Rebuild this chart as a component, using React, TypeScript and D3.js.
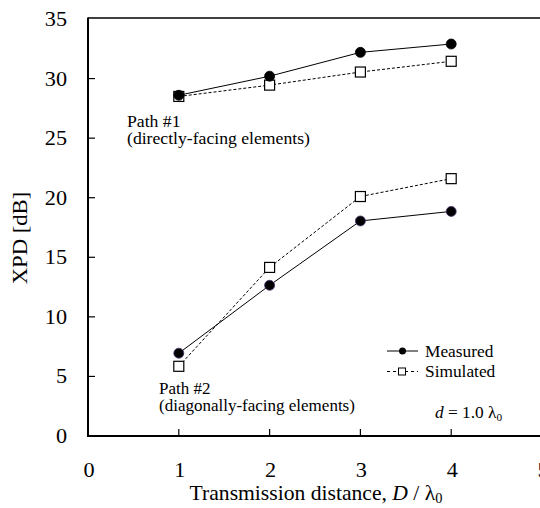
import * as React from "react";
import * as d3 from "d3";

const distances = [1, 2, 3, 4];
const path1Measured = [28.6, 30.2, 32.2, 32.9];
const path1Simulated = [28.5, 29.45, 30.55, 31.45];
const path2Measured = [6.95, 12.65, 18.05, 18.85];
const path2Simulated = [5.85, 14.15, 20.1, 21.6];
const xTicks = [0, 1, 2, 3, 4, 5];
const yTicks = [0, 5, 10, 15, 20, 25, 30, 35];

const W = 540;
const H = 508;
const margin = { left: 88, top: 19, right: -2, bottom: 72 };
const font = "Liberation Serif";

// text slightly stretched sideways, like the original figure
function T(props: { x: number, y: number, size: number, sx?: number, anchor?: string, rotate?: number, children?: any }) {
    const sx = props.sx ?? 1.06;
    const rot = props.rotate ? ` rotate(${props.rotate})` : "";
    return (
        <text transform={`translate(${props.x},${props.y})${rot} scale(${sx},1)`}
            fontSize={props.size} textAnchor={props.anchor || "start"}>
            {props.children}
        </text>
    );
}

export default function App() {
    const x = d3.scaleLinear().domain([0, 5]).range([margin.left, W - margin.right]);
    const y = d3.scaleLinear().domain([0, 35]).range([H - margin.bottom, margin.top]);
    const line = d3.line<number>()
        .x((_, i) => x(distances[i]))
        .y(d => y(d));

    const series = [
        { values: path1Simulated, kind: "sim" },
        { values: path2Simulated, kind: "sim" },
        { values: path1Measured, kind: "meas" },
        { values: path2Measured, kind: "meas" },
    ];

    const x0 = x(0), y0 = y(0), yTop = y(35);

    return (
        <svg width={W} height={H} style={{ position: "absolute", left: 0, top: 0, background: "#fff", fontFamily: font }}>
            {/* frame */}
            <line x1={x0} x2={W} y1={yTop - 1} y2={yTop - 1} stroke="#000" strokeWidth={1.5} />
            <line x1={x0} x2={x0} y1={yTop - 1.5} y2={y0} stroke="#000" strokeWidth={2} />
            <line x1={x0 - 1} x2={W} y1={y0} y2={y0} stroke="#000" strokeWidth={2} />

            {yTicks.map(t => (
                <g key={"y" + t}>
                    {t > 0 && t < 35 && <line x1={x0} x2={x0 + 7} y1={y(t)} y2={y(t)} stroke="#000" strokeWidth={1.2} />}
                    <T x={67} y={y(t) + 7} size={21} anchor="end">{t}</T>
                </g>
            ))}
            {xTicks.map(t => (
                <g key={"x" + t}>
                    {t > 0 && <line x1={x(t)} x2={x(t)} y1={y0} y2={y0 - 7} stroke="#000" strokeWidth={1.2} />}
                    <T x={x(t) + 1} y={477} size={21} anchor="middle">{t}</T>
                </g>
            ))}

            <T x={27} y={238} size={21} sx={1.08} rotate={-90} anchor="middle">XPD [dB]</T>
            <T x={316} y={500} size={21} sx={1.03} anchor="middle">
                Transmission distance, <tspan fontStyle="italic">D</tspan> / λ<tspan fontSize={14} dy={3}>0</tspan>
            </T>

            {series.map((s, k) => (
                <g key={"s" + k}>
                    <path d={line(s.values) || ""} fill="none" stroke="#000" strokeWidth={1}
                        strokeDasharray={s.kind === "sim" ? "3,2" : undefined} />
                    {s.values.map((v, i) => s.kind === "sim"
                        ? <rect key={i} x={x(distances[i]) - 5} y={y(v) - 5} width={10} height={10}
                            fill="#fff" stroke="#000" strokeWidth={1.2} />
                        : <circle key={i} cx={x(distances[i])} cy={y(v)} r={5} fill="#000"
                            stroke={k === 3 ? "#4a3470" : "#000"} strokeWidth={0.8} />)}
                </g>
            ))}

            <T x={127} y={127} size={17} sx={1.04}>Path #1</T>
            <T x={127} y={144} size={17} sx={1.04}>(directly-facing elements)</T>
            <T x={159} y={394} size={17} sx={1.0}>Path #2</T>
            <T x={159} y={411} size={17} sx={1.0}>(diagonally-facing elements)</T>

            {/* legend */}
            <line x1={387} x2={418} y1={351} y2={351} stroke="#000" strokeWidth={1} />
            <circle cx={402.5} cy={351} r={3.5} fill="#000" />
            <T x={425} y={357} size={17} sx={1.02}>Measured</T>
            <line x1={387} x2={418} y1={371.5} y2={371.5} stroke="#000" strokeWidth={1} strokeDasharray="3,3" />
            <rect x={398.5} y={368} width={7} height={7} fill="#fff" stroke="#000" strokeWidth={1} />
            <T x={425} y={377} size={17} sx={1.02}>Simulated</T>

            <T x={435} y={418} size={17} sx={1.02}>
                <tspan fontStyle="italic">d</tspan> = 1.0 λ<tspan fontSize={11} dy={3}>0</tspan>
            </T>
        </svg>
    );
}
